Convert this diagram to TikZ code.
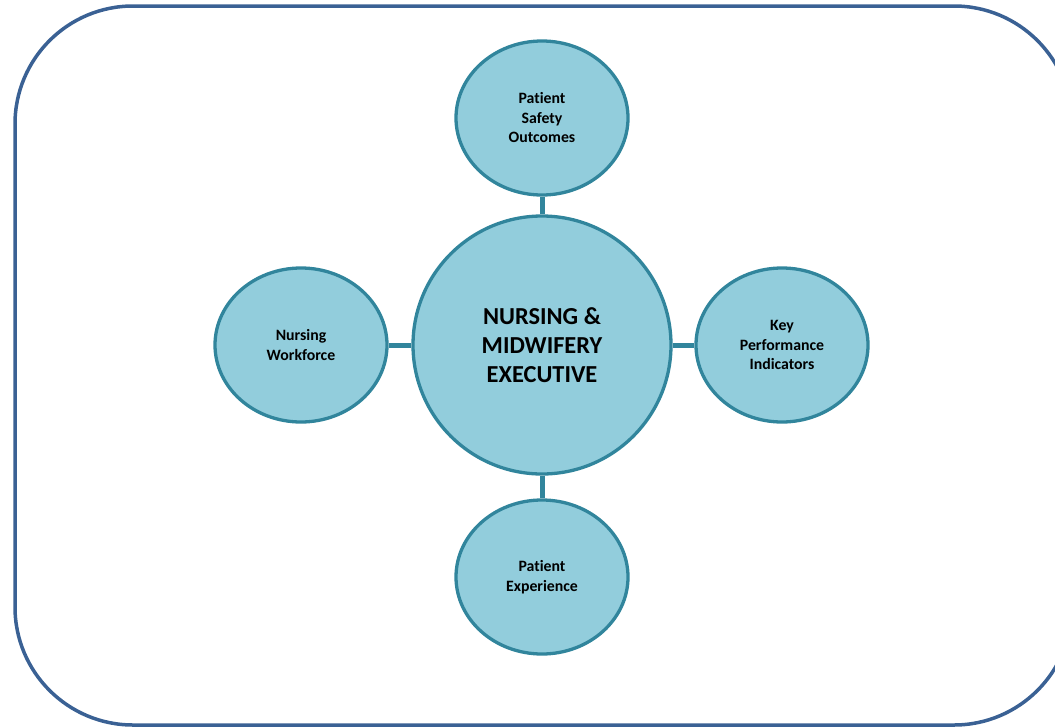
\documentclass[tikz,border=0pt]{standalone}
\usepackage{fontspec}
\setmainfont{Carlito}[Ligatures=NoCommon]
\usetikzlibrary{shapes.geometric}
\definecolor{fillc}{HTML}{92CDDC}
\definecolor{edgec}{HTML}{31859C}
\definecolor{framec}{HTML}{3A6194}
\begin{document}
\begin{tikzpicture}[x=1pt,y=-1pt,
  sat/.style={ellipse,draw=edgec,fill=fillc,line width=3.3pt,minimum width=172pt,minimum height=154pt,inner sep=0pt,
    align=center,font=\fontsize{15.8}{19.5}\selectfont\bfseries},
  hub/.style={circle,draw=edgec,fill=fillc,line width=3.3pt,minimum size=258pt,inner sep=0pt,
    align=center,font=\fontsize{24.4}{29}\selectfont\bfseries},
  link/.style={draw=edgec,line width=5pt}]
\useasboundingbox (0,0) rectangle (1055,726);
\begin{scope}
\clip (0,0) rectangle (1055,726);
\draw[framec,line width=3.5pt,rounded corners=118pt] (15,6) rectangle (1072,725);
\end{scope}
\node[hub] (c) at (542,345) {NURSING \&\\MIDWIFERY\\EXECUTIVE};
\node[sat] (t) at (542,118) {Patient\\Safety\\Outcomes};
\node[sat] (b) at (542,577) {Patient\\Experience};
\node[sat] (l) at (301,345) {Nursing\\Workforce};
\node[sat] (r) at (782,345) {Key\\Performance\\Indicators};
\draw[link] (c.north) -- (t.south);
\draw[link] (c.south) -- (b.north);
\draw[link] (c.west) -- (l.east);
\draw[link] (c.east) -- (r.west);
\end{tikzpicture}
\end{document}
